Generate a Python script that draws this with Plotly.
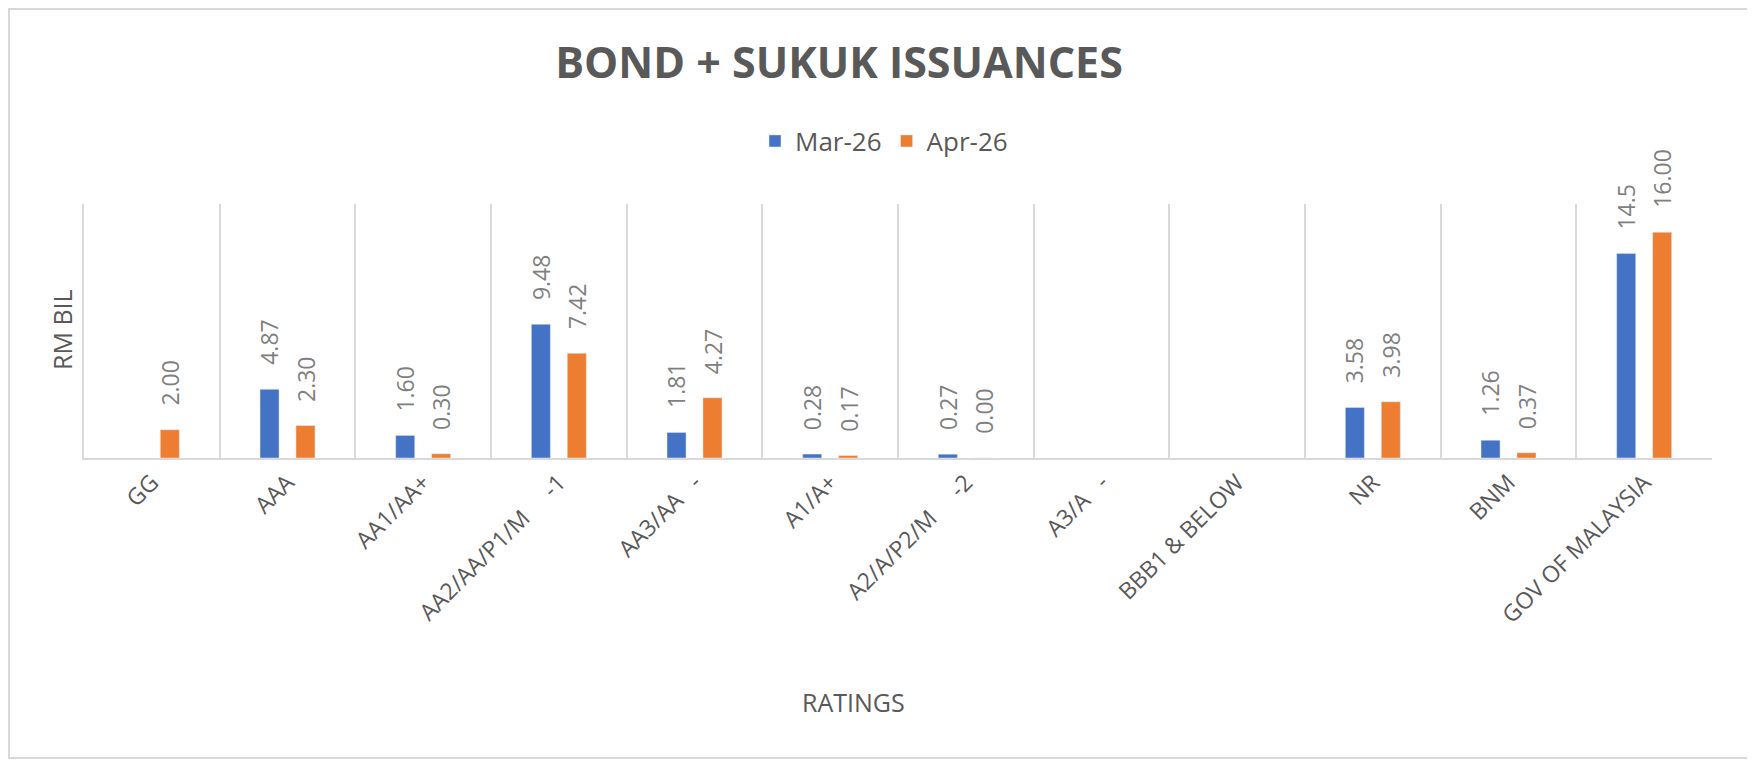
import plotly.graph_objects as go

# ratings (x axis) and the two months of issuance, RM bil
nb = "\u00a0"
categories = ["GG", "AAA", "AA1/AA+", "AA2/AA/P1/M" + nb * 5 + "-1", "AA3/AA" + nb * 3 + "-",
              "A1/A+", "A2/A/P2/M" + nb * 5 + "-2", "A3/A" + nb * 3 + "-", "BBB1 & BELOW",
              "NR", "BNM", "GOV OF MALAYSIA"]
mar_26 = [None, 4.87, 1.60, 9.48, 1.81, 0.28, 0.27, None, None, 3.58, 1.26, 14.5]
apr_26 = [2.00, 2.30, 0.30, 7.42, 4.27, 0.17, 0.00, None, None, 3.98, 0.37, 16.00]
mar_labels = ["", "4.87", "1.60", "9.48", "1.81", "0.28", "0.27", "", "", "3.58", "1.26", "14.5"]
apr_labels = ["2.00", "2.30", "0.30", "7.42", "4.27", "0.17", "0.00", "", "", "3.98", "0.37", "16.00"]

# page body has an 8px margin, so the figure is 8px smaller than the window
PAD = 8
W, H = 1755 - PAD, 766 - PAD
L, T = 84 - PAD, 204 - PAD
R = W - (1712 - PAD)
B = H - (458 - PAD)
pw, ph = W - L - R, H - T - B

def px(x):  # window pixel -> paper x
    return (x - PAD - L) / pw

def py(y):  # window pixel -> paper y
    return (H - B - (y - PAD)) / ph

BLUE = "#4472C4"
ORANGE = "#ED7D31"
TXT = "#595959"
GRID = "#D9D9D9"
FONT = "Open Sans"
bargap = 0.47

fig = go.Figure()
fig.add_trace(go.Bar(x=categories, y=mar_26, name="Mar-26", marker_color=BLUE))
fig.add_trace(go.Bar(x=categories, y=apr_26, name="Apr-26", marker_color=ORANGE))

# data labels, vertical and lifted off the bar tops
off = (1 - bargap) / 4
anns = []
for i, (v, t) in enumerate(zip(mar_26, mar_labels)):
    if v is not None:
        anns.append(dict(x=i - off, y=v, text=t))
for i, (v, t) in enumerate(zip(apr_26, apr_labels)):
    if v is not None:
        anns.append(dict(x=i + off, y=v, text=t))
for a in anns:
    a.update(xref="x", yref="y", textangle=-90, showarrow=False, yanchor="bottom",
             xanchor="center", yshift=22, font=dict(family=FONT, size=23, color="#7F7F7F"))

anns.append(dict(text="RATINGS", xref="paper", yref="paper", x=px(853), y=py(702),
                 xanchor="center", yanchor="middle", showarrow=False,
                 font=dict(family=FONT, size=25, color=TXT)))
anns.append(dict(text="RM BIL", xref="paper", yref="paper", x=px(62), y=py(330),
                 xanchor="center", yanchor="middle", textangle=-90, showarrow=False,
                 font=dict(family=FONT, size=25, color=TXT)))

fig.update_layout(
    width=W, height=H, autosize=False,
    margin=dict(l=L, r=R, t=T, b=B),
    paper_bgcolor="white", plot_bgcolor="white",
    barmode="group", bargap=bargap, bargroupgap=0.47,
    title=dict(text="<b>BOND + SUKUK ISSUANCES</b>", x=(839 - PAD) / W, y=1 - (63 - PAD) / H,
               xanchor="center", yanchor="middle", xref="container", yref="container",
               font=dict(family=FONT, size=43, color=TXT)),
    legend=dict(orientation="h", x=px(884), y=py(141), xanchor="center", yanchor="middle",
                font=dict(family=FONT, size=26, color=TXT)),
    annotations=anns,
    shapes=[dict(type="rect", xref="paper", yref="paper", x0=px(PAD + 1), x1=px(1748),
                 y0=py(758), y1=py(PAD + 1), line=dict(color=GRID, width=2), layer="below")],
)
fig.update_xaxes(tickson="boundaries", showgrid=True, gridcolor=GRID, gridwidth=2,
                 showline=True, linecolor=GRID, linewidth=2, ticks="", tickangle=-45,
                 tickfont=dict(family=FONT, size=23, color=TXT), automargin=False)
fig.update_yaxes(range=[0, 18], showticklabels=False, showgrid=False, zeroline=False,
                 showline=True, linecolor=GRID, linewidth=2, ticks="", automargin=False)

fig.write_html("out.html")
